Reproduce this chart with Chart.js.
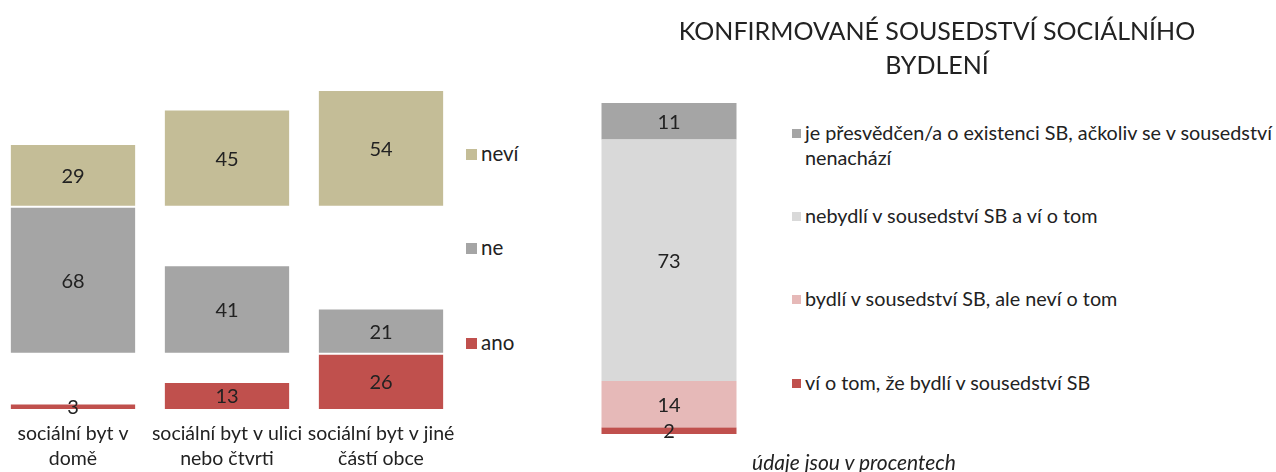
<!DOCTYPE html>
<html>
<head>
<meta charset="utf-8">
<script src="https://cdn.jsdelivr.net/npm/chart.js@4.4.1/dist/chart.umd.min.js"></script>
<style>
  body { margin: 0; width: 1276px; height: 472px; overflow: hidden; background: #fff; position: relative; font-family: Lato, sans-serif; color: #222; }
  .box { position: absolute; }
  #left { left: -4px; top: 0; width: 462px; height: 472px; }
  #right { left: 579px; top: 0; width: 180px; height: 472px; }
  .title { position: absolute; left: 637px; width: 600px; top: 13px; text-align: center; font-size: 25px; line-height: 34px; }
  .leg { position: absolute; white-space: nowrap; }
  .leg i { position: absolute; left: 0; }
  .note { position: absolute; left: 704px; width: 300px; top: 449px; text-align: center; font-size: 21px; font-style: italic; line-height: 26px; }
</style>
</head>
<body>
<div class="box" id="left"><canvas id="barsLeft"></canvas></div>
<div class="box" id="right"><canvas id="barsRight"></canvas></div>
<div class="title">KONFIRMOVANÉ SOUSEDSTVÍ SOCIÁLNÍHO<br>BYDLENÍ</div>
<div id="legLeft"></div>
<div id="legRight"></div>
<div class="note">údaje jsou v procentech</div>

<script>
// left chart
const categories = [['sociální byt v', 'domě'], ['sociální byt v ulici', 'nebo čtvrti'], ['sociální byt v jiné', 'částí obce']];
const seriesNames = ['ano', 'ne', 'neví'];
const anoValues = [3, 13, 26];
const neValues = [68, 41, 21];
const neviValues = [29, 45, 54];
const leftColors = ['#c0504d', '#a5a5a5', '#c4bd97'];

// right chart
const sbLabels = [
  'ví o tom, že bydlí v sousedství SB',
  'bydlí v sousedství SB, ale neví o tom',
  'nebydlí v sousedství SB a ví o tom',
  ['je přesvědčen/a o existenci SB, ačkoliv se v sousedství', 'nenachází']
];
const sbValues = [2, 14, 73, 11];
const rightColors = ['#c0504d', '#e6b9b8', '#d9d9d9', '#a5a5a5'];

// each series sits in its own band, above the biggest value of the band below
const leftSeries = [anoValues, neValues, neviValues];
const bases = [];
let acc = 0;
leftSeries.forEach(vals => { bases.push(acc); acc += Math.max(...vals); });
const leftMax = acc;

const barLabels = {
  id: 'barLabels',
  afterDatasetsDraw(chart) {
    const ctx = chart.ctx;
    ctx.save();
    ctx.font = '20px Lato';
    ctx.fillStyle = '#222';
    ctx.textAlign = 'center';
    ctx.textBaseline = 'middle';
    chart.data.datasets.forEach((ds, i) => {
      chart.getDatasetMeta(i).data.forEach((bar, j) => {
        ctx.fillText(ds.values[j], bar.x, (bar.y + bar.base) / 2 + 1);
      });
    });
    ctx.restore();
  }
};

new Chart(document.getElementById('barsLeft'), {
  type: 'bar',
  data: {
    labels: categories,
    datasets: leftSeries.map((vals, i) => ({
      label: seriesNames[i],
      values: vals,
      data: vals.map(v => [bases[i], bases[i] + v]),
      backgroundColor: leftColors[i],
      borderColor: '#ffffff',
      borderWidth: 1,
      borderSkipped: false,
      barPercentage: 1,
      categoryPercentage: 0.82
    }))
  },
  options: {
    responsive: true,
    maintainAspectRatio: false,
    animation: false,
    layout: { padding: { top: 90, left: 0, right: 0, bottom: 0 } },
    plugins: { legend: { display: false }, tooltip: { enabled: false } },
    scales: {
      x: {
        stacked: true,
        grid: { display: false, drawTicks: false },
        border: { display: false },
        ticks: { font: { family: 'Lato', size: 19.5, lineHeight: 1.25 }, color: '#222', padding: 12, maxRotation: 0, autoSkip: false },
        afterFit: s => { s.height = 62; s.paddingLeft = 0; s.paddingRight = 0; }
      },
      y: { display: false, stacked: false, min: 0, max: leftMax }
    }
  },
  plugins: [barLabels]
});

new Chart(document.getElementById('barsRight'), {
  type: 'bar',
  data: {
    labels: [''],
    datasets: sbValues.map((v, i) => ({
      label: sbLabels[i],
      values: [v],
      data: [v],
      backgroundColor: rightColors[i],
      borderWidth: 0,
      barPercentage: 1,
      categoryPercentage: 0.75
    }))
  },
  options: {
    responsive: true,
    maintainAspectRatio: false,
    animation: false,
    layout: { padding: { top: 103, bottom: 38, left: 0, right: 0 } },
    plugins: { legend: { display: false }, tooltip: { enabled: false } },
    scales: {
      x: { display: false, stacked: true },
      y: { display: false, stacked: true, min: 0, max: 100 }
    }
  },
  plugins: [barLabels]
});

// legends as html, built from the same arrays
function addLegend(parent, x, y, size, gap, fontSize, color, text) {
  const d = document.createElement('div');
  d.className = 'leg';
  d.style.left = x + 'px';
  d.style.top = (y - 13) + 'px';
  d.style.fontSize = fontSize + 'px';
  d.style.lineHeight = '25px';
  d.style.paddingLeft = (size + gap) + 'px';
  d.innerHTML = '<i style="top:' + (13 - size / 2) + 'px;width:' + size + 'px;height:' + size + 'px;background:' + color + '"></i>' +
    (Array.isArray(text) ? text.join('<br>') : text);
  parent.appendChild(d);
}
const legLeft = document.getElementById('legLeft');
const leftLegY = [154, 248, 343];
[2, 1, 0].forEach((i, k) => addLegend(legLeft, 466, leftLegY[k], 11, 4, 20.5, leftColors[i], seriesNames[i]));
const legRight = document.getElementById('legRight');
const rightLegY = [133, 216, 299, 383];
[3, 2, 1, 0].forEach((i, k) => addLegend(legRight, 792, rightLegY[k], 9, 4, 19.8, rightColors[i], sbLabels[i]));
</script>
</body>
</html>
